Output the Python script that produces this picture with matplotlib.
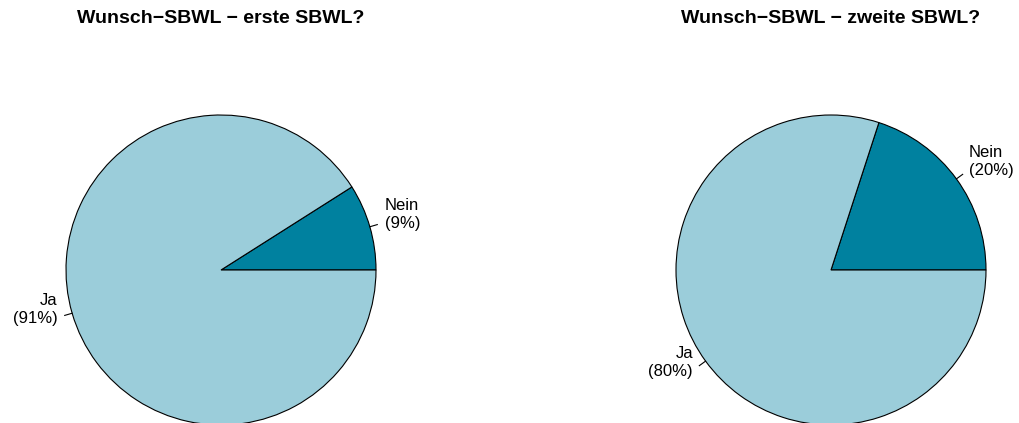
import numpy as np
import matplotlib
matplotlib.use("Agg")
import matplotlib.pyplot as plt

titles = ["Wunsch\u2212SBWL \u2212 erste SBWL?", "Wunsch\u2212SBWL \u2212 zweite SBWL?"]
categories = ["Nein", "Ja"]
values_first = [9, 91]
values_second = [20, 80]
colors = ["#00819F", "#9BCDDA"]

W, H = 1019, 423
fig = plt.figure(figsize=(W / 100, H / 100), dpi=100)
plt.rcParams['font.family'] = ['Liberation Sans', 'DejaVu Sans']

panel_w = W / 2
R = 155
centers_x = [221, 831 - panel_w]
for i, (title, vals) in enumerate([(titles[0], values_first), (titles[1], values_second)]):
    ax = fig.add_axes([i * 0.5, 0, 0.5, 1])
    cx, cy = centers_x[i], H - 270
    ax.pie(vals, colors=colors, startangle=0, counterclock=True, center=(cx, cy), radius=R,
           wedgeprops=dict(edgecolor='black', linewidth=0.8), frame=True)
    ax.set_xlim(0, panel_w)
    ax.set_ylim(0, H)
    ax.set_aspect('equal')
    ax.axis('off')
    total = sum(vals)
    cum = 0
    for lab, v in zip(categories, vals):
        mid = 2 * np.pi * (cum + v / 2) / total
        cum += v
        c, s = np.cos(mid), np.sin(mid)
        ax.plot([cx + R * c, cx + 1.05 * R * c], [cy + R * s, cy + 1.05 * R * s],
                color='black', lw=0.8, clip_on=False)
        pct = round(100 * v / total)
        ax.text(cx + 1.1 * R * c, cy + 1.1 * R * s + 8, f"{lab}\n({pct}%)",
                ha='left' if c > 0 else 'right', va='center', fontsize=12, linespacing=1.25)
    ax.text(cx, H - 18, title, ha='center', va='center', fontsize=14, fontweight='bold')

fig.savefig("out.png", dpi=100)
